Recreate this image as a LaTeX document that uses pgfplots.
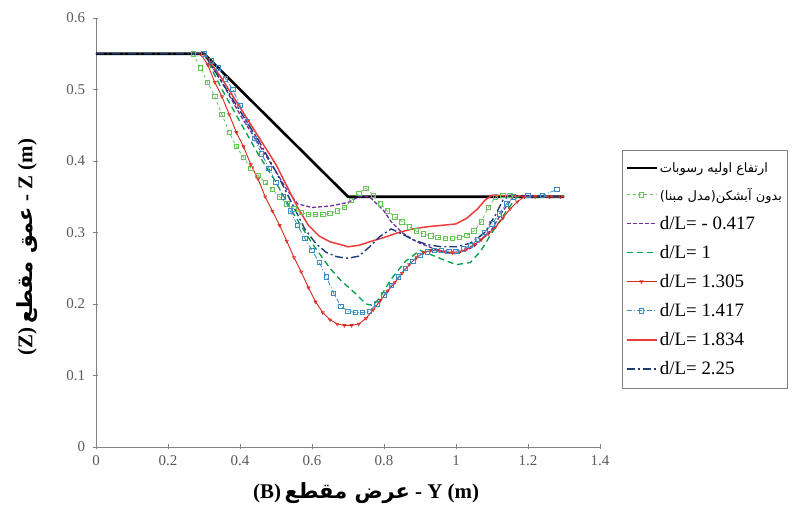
\documentclass[border=0pt]{standalone}
\usepackage{fontspec}
\setmainfont{Liberation Serif}
\newfontfamily\arabicfont[Script=Arabic]{DejaVu Sans}
\TeXXeTstate=1
\usepackage{pgfplots}
\pgfplotsset{compat=1.18}
\definecolor{axgray}{RGB}{130,130,130}
\definecolor{tkgray}{RGB}{90,90,90}
\definecolor{basegreen}{RGB}{100,195,85}
\definecolor{cpurple}{RGB}{112,48,160}
\definecolor{cgreen}{RGB}{0,160,70}
\definecolor{cred}{RGB}{215,40,30}
\definecolor{cblue}{RGB}{60,140,195}
\definecolor{cred2}{RGB}{235,60,60}
\definecolor{cnavy}{RGB}{30,60,120}
\begin{document}
\begin{tikzpicture}[x=1bp,y=1bp]
\begin{axis}[
  at={(0,0)}, anchor=origin,
  scale only axis, width=504bp, height=429bp,
  xmin=0, xmax=1.4, ymin=0, ymax=0.6,
  axis x line=bottom, axis y line=left,
  axis line style={-, draw=axgray, line width=0.9bp},
  xtick={0,0.2,...,1.4}, ytick={0,0.1,...,0.6},
  tick align=center, major tick length=5bp,
  tick style={draw=axgray, line width=0.6bp},
  /pgf/number format/assume math mode=true,
  ticklabel style={font=\fontsize{15}{17}\selectfont, text=tkgray},
  xticklabel style={yshift=-3bp},
  yticklabel style={xshift=-5bp},
  xlabel={\bfseries (B)\,{\arabicfont\bfseries\beginR عرض مقطع\endR} - Y (m)},
  xlabel style={font=\fontsize{21}{23}\selectfont, at={(axis description cs:0.536,-0.107)}, anchor=center},
  ylabel={\bfseries (Z)\,{\arabicfont\bfseries\beginR عمق مقطع\endR} - Z (m)},
  ylabel style={font=\fontsize{21}{23}\selectfont, at={(axis description cs:-0.137,0.466)}, anchor=center, rotate=0},
  legend style={at={(axis description cs:1.0437,0.6923)}, anchor=north west,
    draw=axgray, font=\fontsize{19}{22}\selectfont, row sep=10.5bp,
    inner xsep=3bp, inner ysep=10bp},
  legend cell align=left,
  legend image code/.code={\draw[mark repeat=2,mark phase=2,#1] plot coordinates {(0bp,0bp) (15bp,0bp) (30bp,0bp)};},
]
% initial sediment
\addplot[black, line width=2.6bp] coordinates {(0,0.55) (0.3,0.55) (0.7,0.35) (1.3,0.35)};
\addlegendentry{{\arabicfont\fontsize{13}{15}\selectfont\beginR ارتفاع اولیه رسوبات\endR}}
% base model
\addplot[basegreen, dashed, line width=0.8bp, mark=square, mark size=2.2bp, mark options={solid, line width=0.8bp}] coordinates {
(0.27,0.55) (0.29,0.53) (0.31,0.51) (0.33,0.49) (0.35,0.465) (0.37,0.44) (0.39,0.42)
(0.41,0.405) (0.43,0.39) (0.45,0.38) (0.47,0.37) (0.49,0.36) (0.51,0.35) (0.53,0.34)
(0.55,0.333) (0.57,0.328) (0.59,0.325) (0.61,0.325) (0.63,0.325) (0.65,0.327) (0.67,0.33)
(0.69,0.335) (0.71,0.345) (0.73,0.355) (0.75,0.362) (0.77,0.352) (0.79,0.34) (0.81,0.33)
(0.83,0.322) (0.85,0.315) (0.87,0.308) (0.89,0.302) (0.91,0.298) (0.93,0.295) (0.95,0.293)
(0.97,0.292) (0.99,0.292) (1.01,0.293) (1.03,0.296) (1.05,0.302) (1.07,0.315) (1.09,0.335)
(1.11,0.35) (1.13,0.352) (1.15,0.352)};
\addlegendentry{{\arabicfont\fontsize{13}{15}\selectfont\beginR بدون آبشکن(مدل مبنا)\endR}}
% d/L = -0.417
\addplot[cpurple, dash pattern=on 4bp off 2bp, line width=1.3bp] coordinates {
(0.3,0.55) (0.35,0.51) (0.4,0.465) (0.45,0.425) (0.5,0.385) (0.53,0.36) (0.56,0.34)
(0.6,0.335) (0.65,0.337) (0.7,0.342) (0.73,0.35) (0.76,0.35) (0.78,0.34) (0.8,0.33)
(0.82,0.315) (0.85,0.3) (0.88,0.29) (0.9,0.285) (0.95,0.275) (1.0,0.27) (1.05,0.28)
(1.1,0.305) (1.13,0.33) (1.16,0.35) (1.3,0.35)};
\addlegendentry{d/L= - 0.417}
% d/L = 1
\addplot[cgreen, dash pattern=on 6bp off 4bp, line width=1.3bp] coordinates {
(0.3,0.55) (0.35,0.5) (0.4,0.455) (0.45,0.41) (0.5,0.37) (0.55,0.325) (0.6,0.285)
(0.65,0.25) (0.68,0.233) (0.72,0.215) (0.75,0.2) (0.77,0.198) (0.79,0.21) (0.82,0.235)
(0.86,0.26) (0.9,0.275) (0.95,0.265) (1.0,0.255) (1.04,0.258) (1.07,0.275) (1.1,0.3)
(1.14,0.33) (1.17,0.35) (1.3,0.35)};
\addlegendentry{d/L= 1}
% d/L = 1.305
\addplot[cred, line width=0.9bp, mark=triangle, mark size=1.8bp, mark options={solid, rotate=180, line width=0.6bp}] coordinates {
(0.29,0.55) (0.31,0.535) (0.33,0.51) (0.35,0.49) (0.37,0.465) (0.39,0.44) (0.41,0.42)
(0.43,0.395) (0.45,0.375) (0.47,0.35) (0.49,0.33) (0.51,0.31) (0.53,0.288) (0.55,0.265)
(0.57,0.245) (0.59,0.223) (0.61,0.203) (0.63,0.188) (0.65,0.178) (0.67,0.172) (0.69,0.17)
(0.71,0.17) (0.73,0.172) (0.75,0.18) (0.77,0.192) (0.79,0.205) (0.81,0.218) (0.83,0.23)
(0.85,0.243) (0.87,0.255) (0.89,0.265) (0.91,0.272) (0.93,0.275) (0.95,0.275) (0.97,0.273)
(0.99,0.272) (1.01,0.273) (1.03,0.277) (1.05,0.283) (1.07,0.29) (1.09,0.298) (1.11,0.308)
(1.13,0.32) (1.15,0.333) (1.17,0.343) (1.19,0.35) (1.22,0.35) (1.26,0.35) (1.29,0.35)};
\addlegendentry{d/L= 1.305}
% d/L = 1.417
\addplot[cblue, dash pattern=on 5bp off 2bp on 1bp off 2bp, line width=0.8bp, mark=square, mark size=2.2bp, mark options={solid, line width=0.7bp}] coordinates {
(0.3,0.55) (0.32,0.54) (0.34,0.53) (0.36,0.515) (0.38,0.5) (0.40,0.478) (0.42,0.455)
(0.44,0.432) (0.46,0.41) (0.48,0.39) (0.50,0.37) (0.52,0.35) (0.54,0.33) (0.56,0.31)
(0.58,0.292) (0.60,0.275) (0.62,0.258) (0.64,0.238) (0.66,0.215) (0.68,0.197) (0.70,0.19)
(0.72,0.188) (0.74,0.188) (0.76,0.19) (0.78,0.2) (0.80,0.213) (0.82,0.226) (0.84,0.238)
(0.86,0.25) (0.88,0.26) (0.90,0.268) (0.92,0.273) (0.94,0.275) (0.96,0.275) (0.98,0.274)
(1.00,0.274) (1.02,0.277) (1.04,0.282) (1.06,0.29) (1.08,0.3) (1.10,0.312) (1.12,0.326)
(1.14,0.34) (1.16,0.35) (1.20,0.352) (1.24,0.352) (1.28,0.36)};
\addlegendentry{d/L= 1.417}
% d/L = 1.834
\addplot[cred2, line width=1.5bp] coordinates {
(0.3,0.55) (0.35,0.515) (0.4,0.475) (0.45,0.435) (0.5,0.395) (0.53,0.365) (0.56,0.335)
(0.59,0.31) (0.62,0.295) (0.65,0.287) (0.68,0.283) (0.7,0.28) (0.73,0.282) (0.76,0.287)
(0.8,0.293) (0.84,0.3) (0.88,0.305) (0.92,0.308) (0.96,0.31) (1.0,0.312) (1.03,0.32)
(1.06,0.333) (1.08,0.345) (1.1,0.352) (1.3,0.35)};
\addlegendentry{d/L= 1.834}
% d/L = 2.25
\addplot[cnavy, dash pattern=on 8bp off 3bp on 2bp off 3bp, line width=1.4bp] coordinates {
(0,0.55) (0.3,0.55) (0.35,0.51) (0.4,0.47) (0.45,0.43) (0.5,0.385) (0.55,0.335) (0.58,0.305)
(0.61,0.285) (0.64,0.272) (0.67,0.266) (0.7,0.264) (0.73,0.267) (0.76,0.28) (0.79,0.295)
(0.82,0.305) (0.85,0.298) (0.88,0.29) (0.92,0.283) (0.96,0.28) (1.0,0.28) (1.04,0.285)
(1.08,0.3) (1.11,0.325) (1.13,0.345) (1.15,0.352) (1.3,0.35)};
\addlegendentry{d/L= 2.25}
\end{axis}
\pgfresetboundingbox
\useasboundingbox (-96,-69) rectangle (707,447);
\end{tikzpicture}
\end{document}
